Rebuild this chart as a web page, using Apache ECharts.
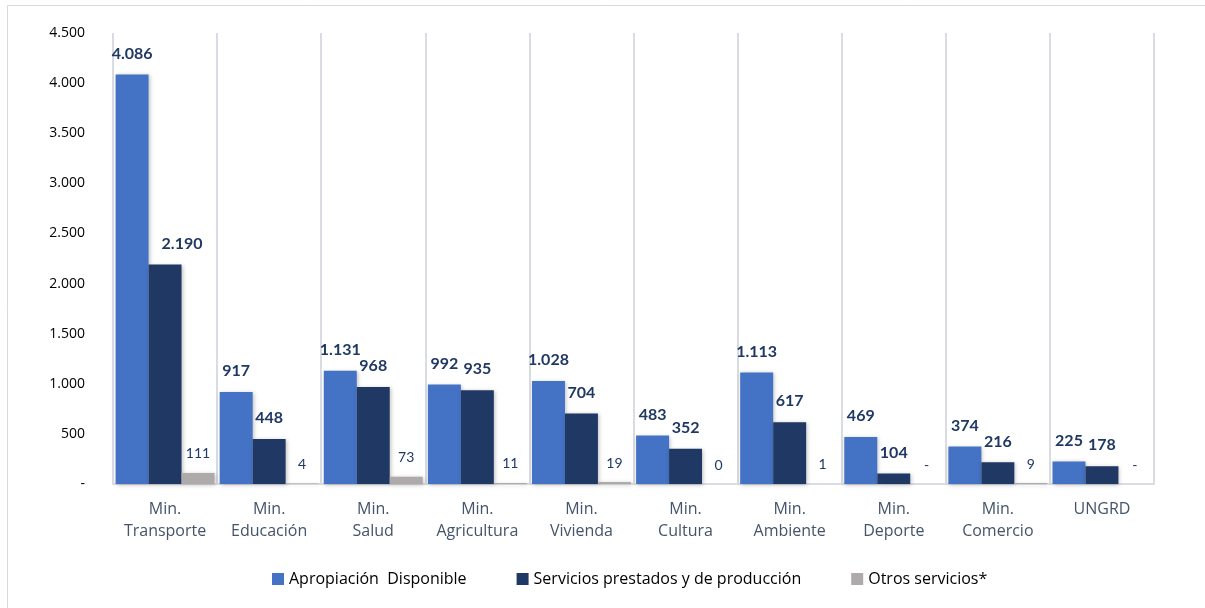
<!DOCTYPE html>
<html><head><meta charset="utf-8">
<script src="https://cdn.jsdelivr.net/npm/echarts@6/dist/echarts.min.js"></script>
<style>html,body{margin:0;padding:0;background:#fff}#c{width:1205px;height:608px}</style>
</head><body><div id="c"></div>
<script>
const categories = ['Min.\nTransporte','Min.\nEducación','Min.\nSalud','Min.\nAgricultura','Min.\nVivienda','Min.\nCultura','Min.\nAmbiente','Min.\nDeporte','Min.\nComercio','UNGRD'];
const apropiacion = [4086, 917, 1131, 992, 1028, 483, 1113, 469, 374, 225];
const servicios = [2190, 448, 968, 935, 704, 352, 617, 104, 216, 178];
const otros = [111, 4, 73, 11, 19, 0, 1, 0, 9, 0];
const otrosLabels = ['111','4','73','11','19','0','1','-','9','-'];
const seriesNames = ['Apropiación  Disponible','Servicios prestados y de producción','Otros servicios*'];

function fmt(v){ if(v===0) return '-'; return String(v).replace(/\B(?=(\d{3})+(?!\d))/g,'.'); }
const FONT = 'Lato';
const FONT2 = 'Open Sans';
const chart = echarts.init(document.getElementById('c'));
const shadow = {shadowBlur:4, shadowColor:'rgba(0,0,0,0.25)', shadowOffsetX:1, shadowOffsetY:1};
chart.setOption({
  animation:false,
  textStyle:{fontFamily:FONT},
  graphic:[{type:'rect',shape:{x:7.5,y:5.5,width:1220,height:640},style:{fill:'none',stroke:'#d9d9d9',lineWidth:1},silent:true}],
  grid:{left:113,right:51,top:33,bottom:124},
  legend:{bottom:16,left:267,itemWidth:12,itemHeight:12,itemGap:50,icon:'rect',
    textStyle:{fontFamily:FONT2,fontSize:16,color:'#000'}},
  xAxis:{type:'category',data:categories,
    axisLine:{lineStyle:{color:'#d9dde3',width:2}},axisTick:{show:false},
    splitLine:{show:true,lineStyle:{color:'#d9dde3',width:2}},
    axisLabel:{color:'#44546a',fontSize:16,lineHeight:22,margin:14,interval:0,fontFamily:FONT2}},
  yAxis:{type:'value',min:0,max:4500,interval:500,
    axisLine:{show:false},axisTick:{show:false},splitLine:{show:false},
    axisLabel:{formatter:fmt,color:'#000',fontSize:14,margin:28,fontFamily:FONT2}},
  series:[
    {name:seriesNames[0],type:'bar',data:apropiacion,barGap:'0%',barCategoryGap:'5%',
      itemStyle:Object.assign({color:'#4472c4'},shadow),
      label:{show:true,position:'top',distance:13,formatter:p=>fmt(p.value),color:'#203864',fontWeight:'bold',fontSize:16,fontFamily:FONT}},
    {name:seriesNames[1],type:'bar',
      data:servicios.map((v,i)=>i===0?{value:v,label:{offset:[17,0]}}:v),
      itemStyle:Object.assign({color:'#203864'},shadow),
      label:{show:true,position:'top',distance:13,formatter:p=>fmt(p.value),color:'#203864',fontWeight:'bold',fontSize:16,fontFamily:FONT}},
    {name:seriesNames[2],type:'bar',data:otros,
      itemStyle:Object.assign({color:'#aeaaaa'},shadow),
      label:{show:true,position:'top',distance:12,formatter:p=>otrosLabels[p.dataIndex],color:'#203864',fontSize:14,fontFamily:FONT}}
  ]
});
</script></body></html>
